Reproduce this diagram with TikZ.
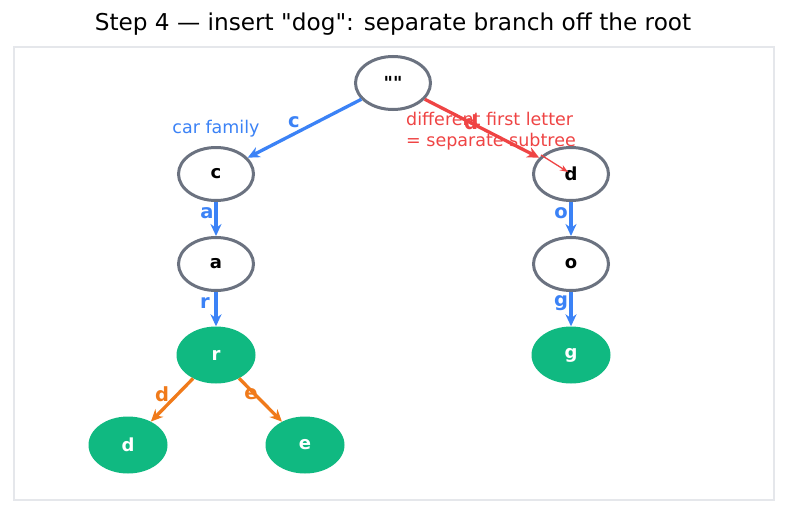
\documentclass[tikz,border=0pt]{standalone}
\usepackage{fontspec}
\setmainfont{DejaVu Sans}[Ligatures=TeXOff]
\usetikzlibrary{shapes.geometric,arrows.meta}
\definecolor{eblue}{HTML}{3B82F6}
\definecolor{ered}{HTML}{EF4444}
\definecolor{eorange}{HTML}{F07A1A}
\definecolor{ngreen}{HTML}{10B981}
\definecolor{ngray}{HTML}{6B7280}
\definecolor{framec}{HTML}{E5E7EB}
\tikzset{
  trienode/.style={ellipse, draw=ngray, line width=3pt, fill=white, minimum width=75pt, minimum height=53pt, inner sep=0pt, font=\fontsize{18}{20}\selectfont\bfseries, text=black},
  leafnode/.style={ellipse, fill=ngreen, minimum width=79pt, minimum height=57pt, inner sep=0pt, font=\fontsize{18}{20}\selectfont\bfseries, text=white},
  edge/.style={line width=3.3pt, -{Stealth[length=12pt,width=11pt]}},
  elabel/.style={font=\fontsize{19.5}{21}\selectfont\bfseries},
  note/.style={font=\fontsize{17.5}{21}\selectfont, align=left}
}
\begin{document}
\begin{tikzpicture}[x=1pt,y=-1pt]
\useasboundingbox (0,0) rectangle (787,514);
\fill[white] (0,0) rectangle (787,514);
\node[font=\fontsize{23.2}{25}\selectfont] (title) at (393,24) {Step 4 — insert "dog": separate branch off the root};
\draw[framec, line width=1.2pt] (14,47) rectangle (774,500);

% labels and notes (drawn beneath edges)
\node[note, text=eblue] (carfam) at (216,129) {car family};
\node[note, text=ered, anchor=west, inner sep=0pt] (diff) at (406,131) {different first letter\\= separate subtree};
\node[elabel, text=eblue] (lc) at (294,122) {c};
\node[elabel, text=ered] (ld) at (471,122) {d};
\node[elabel, text=eblue] (la) at (207,213) {a};
\node[elabel, text=eblue] (lr) at (205,303) {r};
\node[elabel, text=eblue] (lo) at (561,213) {o};
\node[elabel, text=eblue] (lg) at (561,303) {g};
\node[elabel, text=eorange] (ld2) at (162,394) {d};
\node[elabel, text=eorange] (le) at (251,394) {e};

% nodes
\node[trienode] (root) at (393,83) {""};
\node[trienode] (c) at (216,174) {c};
\node[trienode] (a) at (216,264) {a};
\node[leafnode] (r) at (216,355) {r};
\node[leafnode] (dl) at (128,445) {d};
\node[leafnode] (e) at (305,445) {e};
\node[trienode] (dr) at (571,174) {d};
\node[trienode] (o) at (571,264) {o};
\node[leafnode] (g) at (571,355) {g};

% edges
\draw[edge, eblue] (root) -- (c);
\draw[edge, ered] (root) -- (dr);
\draw[edge, eblue] (c) -- (a);
\draw[edge, eblue] (a) -- (r);
\draw[edge, eblue] (dr) -- (o);
\draw[edge, eblue] (o) -- (g);
\draw[edge, eorange] (r) -- (dl);
\draw[edge, eorange] (r) -- (e);

\coordinate (nstart) at (541,155);
\coordinate (nend) at (568,172);
\draw[ered, line width=1.3pt, -{Stealth[length=8pt,width=6pt]}] (nstart) -- (nend);
\end{tikzpicture}
\end{document}
